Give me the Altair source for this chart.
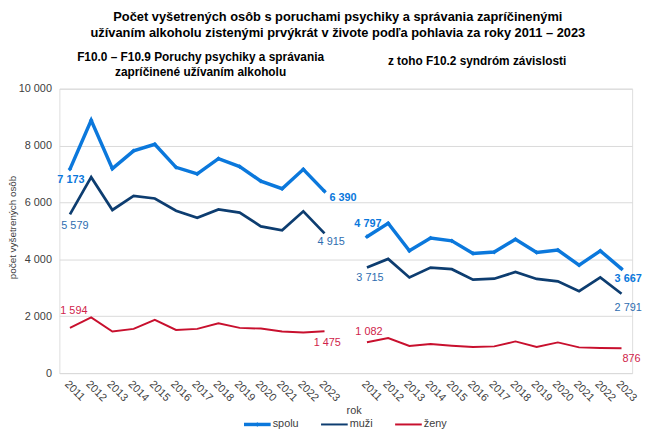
import altair as alt
import pandas as pd

years = list(range(2011, 2024))
series_names = ["spolu", "muži", "ženy"]

# F10.0 – F10.9
a_spolu = [7173, 8890, 7190, 7815, 8045, 7235, 7005, 7540, 7260, 6750, 6485, 7165, 6390]
a_muzi = [5579, 6890, 5735, 6230, 6140, 5710, 5460, 5755, 5645, 5160, 5020, 5690, 4915]
a_zeny = [1594, 1960, 1460, 1555, 1875, 1520, 1555, 1750, 1590, 1565, 1460, 1425, 1475]
# F10.2
b_spolu = [4797, 5270, 4300, 4750, 4650, 4210, 4255, 4705, 4245, 4325, 3795, 4300, 3667]
b_muzi = [3715, 4015, 3365, 3710, 3655, 3285, 3320, 3555, 3310, 3225, 2880, 3365, 2791]
b_zeny = [1082, 1230, 955, 1020, 965, 920, 940, 1115, 920, 1080, 905, 885, 876]

title_lines = ["Počet vyšetrených osôb s poruchami psychiky a správania zapríčinenými",
               "užívaním alkoholu zistenými prvýkrát v živote podľa pohlavia za roky 2011 – 2023"]
panel_titles_a = ["F10.0 – F10.9 Poruchy psychiky a správania", "zapríčinené užívaním alkoholu"]
panel_titles_b = ["z toho F10.2 syndróm závislosti"]

colors = ["#0B78DC", "#0D3D70", "#C8102E"]
label_colors = {"spolu": "#0B78DC", "muži": "#2E6DB0", "ženy": "#D0234A"}
widths = [3.5, 2, 2]

FONT = "Liberation Sans"

def fmt(v):
    return f"{v:,}".replace(",", " ")

panels = [
    {"spolu": a_spolu, "muži": a_muzi, "ženy": a_zeny},
    {"spolu": b_spolu, "muži": b_muzi, "ženy": b_zeny},
]
n = len(years)
rows = []
for gi, panel in enumerate(panels):
    for s, vals in panel.items():
        for i, (yr, v) in enumerate(zip(years, vals)):
            rows.append(dict(pos=i + gi * (n + 1), year=yr, series=s, panel=gi,
                             idx=i, value=v, label=fmt(v)))
df = pd.DataFrame(rows)

tick_positions = list(range(n)) + [p + n + 1 for p in range(n)]

x_enc = alt.X("pos:Q",
              scale=alt.Scale(domain=[-0.5, 2 * n + 0.5], nice=False, zero=False),
              axis=alt.Axis(values=tick_positions,
                            labelExpr=f"datum.value < {n} ? '' + ({years[0]} + datum.value) : '' + ({years[0] - n - 1} + datum.value)",
                            labelAngle=45, labelAlign="left", labelBaseline="top",
                            labelOverlap=False, labelFlush=False, labelBound=False,
                            grid=False, ticks=False, domain=False,
                            labelFontSize=11, labelColor="#404040", labelFont=FONT,
                            labelPadding=5,
                            title="rok", titleFont=FONT, titleFontSize=11,
                            titleFontWeight="normal", titleColor="#404040",
                            titleX=298, titleY=38, titleAlign="center",
                            titleBaseline="middle"))
y_enc = alt.Y("value:Q",
              scale=alt.Scale(domain=[0, 10000], nice=False),
              axis=alt.Axis(values=[0, 2000, 4000, 6000, 8000, 10000],
                            labelExpr="replace(format(datum.value, ','), ',', ' ')",
                            grid=True, gridColor="#D9D9D9", gridWidth=1,
                            domain=False, ticks=False,
                            labelFontSize=11, labelColor="#404040", labelFont=FONT,
                            labelPadding=8,
                            title="počet vyšetrených osôb", titleFont=FONT,
                            titleFontSize=10, titleFontWeight="normal",
                            titleColor="#404040", titleX=-47, titleY=140,
                            titleAngle=270, titleAlign="center",
                            titleBaseline="middle"))

color_enc = alt.Color("series:N",
                      scale=alt.Scale(domain=series_names, range=colors),
                      legend=None)
sw_enc = alt.StrokeWidth("series:N",
                         scale=alt.Scale(domain=series_names, range=widths),
                         legend=None)

base = alt.Chart(df)
lines = base.mark_line().encode(x=x_enc, y=y_enc, color=color_enc,
                                strokeWidth=sw_enc, detail="panel:N")
points = base.transform_filter(alt.datum.series == "spolu").mark_point(
    shape="diamond", filled=True, size=22, opacity=1, color=colors[0]
).encode(x=x_enc, y=y_enc)

# (panel, series, index, dx, dy, align)
label_specs = [
    (0, "spolu", 0, 1, 11, "center"),
    (0, "muži", 0, 5, 12, "center"),
    (0, "ženy", 0, 4, -17, "center"),
    (0, "spolu", n - 1, 5, 7, "left"),
    (0, "muži", n - 1, -7, 9, "left"),
    (0, "ženy", n - 1, -11, 12, "left"),
    (1, "spolu", 0, 1, -13, "center"),
    (1, "muži", 0, 3, 11, "center"),
    (1, "ženy", 0, 2, -10, "center"),
    (1, "spolu", n - 1, -7, 10, "left"),
    (1, "muži", n - 1, -7, 14, "left"),
    (1, "ženy", n - 1, 1, 11, "left"),
]
label_layers = []
for p, s, i, dx, dy, al in label_specs:
    label_layers.append(
        base.transform_filter((alt.datum.panel == p) & (alt.datum.series == s) & (alt.datum.idx == i))
        .mark_text(font=FONT, fontSize=11, fontWeight="bold" if s == "spolu" else "normal",
                   color=label_colors[s], dx=dx, dy=dy, align=al, baseline="middle")
        .encode(x=x_enc, y=y_enc, text="label:N")
    )

def text_layer(txt, x, y, size, bold=True, align="center", color="#000000"):
    return alt.Chart(pd.DataFrame({"t": [txt]})).mark_text(
        font=FONT, fontSize=size, fontWeight="bold" if bold else "normal",
        color=color, align=align, baseline="middle"
    ).encode(x=alt.value(x), y=alt.value(y), text="t:N")

titles = [
    text_layer(title_lines[0], 282, -73, 13),
    text_layer(title_lines[1], 282, -56, 13),
    text_layer(panel_titles_a[0], 143, -32, 12),
    text_layer(panel_titles_a[1], 143, -17, 12),
    text_layer(panel_titles_b[0], 423, -28, 12),
]

# manual legend (style positions, relative to plot origin)
legend_pos = [(187, 214), (265, 292), (340, 367)]
legend_y = 340
legend_layers = []
for name, col, w, (x1, x2) in zip(series_names, colors, widths, legend_pos):
    legend_layers.append(
        alt.Chart(pd.DataFrame({"s": [name]})).mark_rule(color=col, strokeWidth=w)
        .encode(x=alt.value(x1), x2=alt.value(x2), y=alt.value(legend_y))
    )
    legend_layers.append(text_layer(name, x2 + 2, legend_y, 11, bold=False,
                                    align="left", color="#404040"))
legend_layers.append(
    alt.Chart(pd.DataFrame({"s": [series_names[0]]})).mark_point(
        shape="diamond", filled=True, size=22, opacity=1, color=colors[0])
    .encode(x=alt.value((legend_pos[0][0] + legend_pos[0][1]) / 2), y=alt.value(legend_y))
)

chart = alt.layer(lines, points, *label_layers, *titles, *legend_layers).properties(
    width=580, height=288,
    padding={"left": 52, "top": 79, "right": 10, "bottom": 64},
    autosize=alt.AutoSizeParams(type="none"),
).configure_view(stroke=None).configure(background="white").configure_axisX(labelOverlap=False)

chart.save("out.html", embed_options={"renderer": "svg", "actions": False})
